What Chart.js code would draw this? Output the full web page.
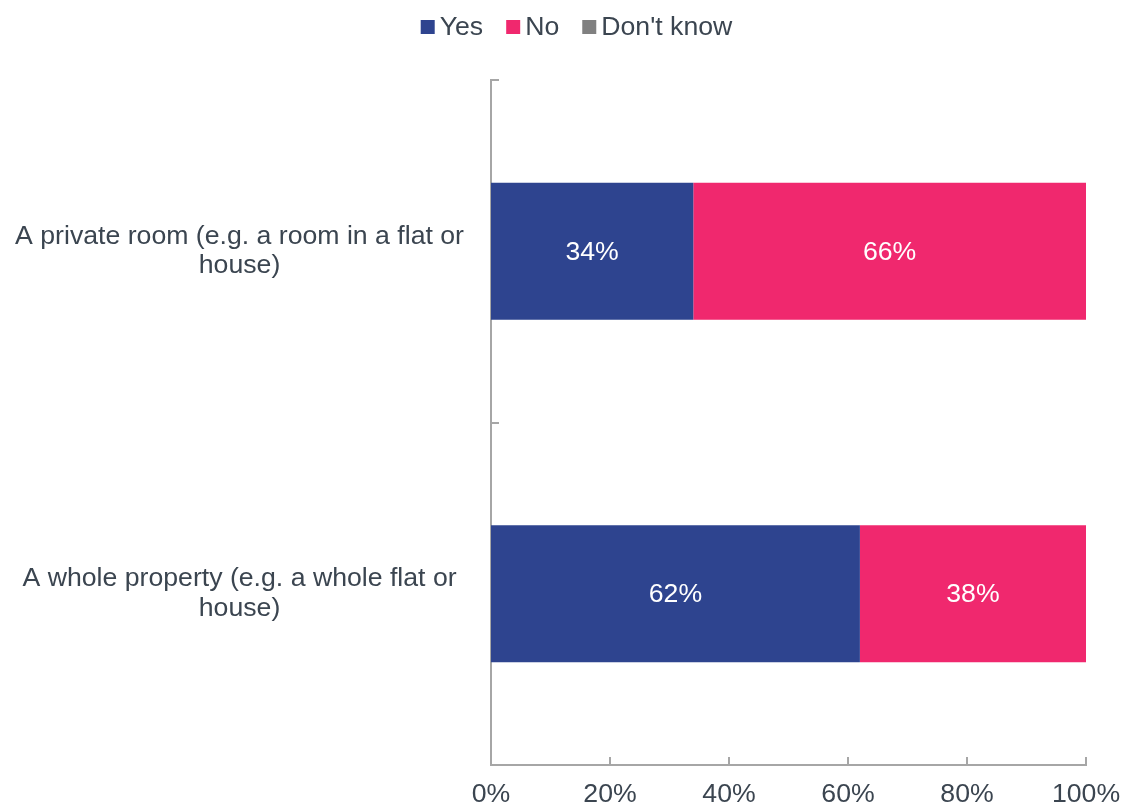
<!DOCTYPE html>
<html>
<head>
<meta charset="utf-8">
<script src="https://cdn.jsdelivr.net/npm/chart.js@4/dist/chart.umd.min.js"></script>
<style>
  html, body { margin: 0; padding: 0; background: #fff; }
  #wrap { width: 1125px; height: 807px; }
</style>
</head>
<body>
<div id="wrap"><canvas id="chart"></canvas></div>
<script>
// Chart data
const categories = [
  ['A private room (e.g. a room in a flat or', 'house)'],
  ['A whole property (e.g. a whole flat or', 'house)']
];
const yesValues = [34, 62];
const noValues = [66, 38];
const dontKnowValues = [0, 0];
const xTicks = [0, 20, 40, 60, 80, 100];

const TEXT = '#3b4550';
const AXIS = '#a6a6a6';
const FONT = 'Liberation Sans, Arial, sans-serif';
const FONT_SIZE = 26.67;

/**
 * Value labels in the middle of each bar segment
 */
const segmentLabels = {
  id: 'segmentLabels',
  afterDatasetsDraw(chart) {
    const ctx = chart.ctx;
    ctx.save();
    ctx.font = FONT_SIZE + 'px ' + FONT;
    ctx.fillStyle = '#ffffff';
    ctx.textAlign = 'center';
    ctx.textBaseline = 'middle';
    chart.data.datasets.forEach((ds, di) => {
      const meta = chart.getDatasetMeta(di);
      if (meta.hidden) return;
      meta.data.forEach((bar, i) => {
        const v = ds.data[i];
        if (!v) return;
        ctx.fillText(v + '%', (bar.x + bar.base) / 2, bar.y + 1);
      });
    });
    ctx.restore();
  }
};

/**
 * Small inward tick marks on both axes
 */
const innerTicks = {
  id: 'innerTicks',
  afterDraw(chart) {
    const ctx = chart.ctx;
    const x = chart.scales.x;
    const y = chart.scales.y;
    ctx.save();
    ctx.strokeStyle = AXIS;
    ctx.lineWidth = 2;
    ctx.beginPath();
    // category boundaries on the y axis
    const n = chart.data.labels.length;
    for (let k = 0; k <= n; k++) {
      const py = Math.round(y.top + k * (y.bottom - y.top) / n);
      ctx.moveTo(x.left, py);
      ctx.lineTo(x.left + 8, py);
    }
    // value ticks on the x axis
    x.ticks.forEach((t, i) => {
      const px = Math.round(x.getPixelForTick(i));
      ctx.moveTo(px, y.bottom);
      ctx.lineTo(px, y.bottom - 8);
    });
    ctx.stroke();
    ctx.restore();
  }
};

/**
 * Compact legend row (square, small gap, label) drawn from the datasets
 */
const compactLegend = {
  id: 'compactLegend',
  afterDraw(chart) {
    const ctx = chart.ctx;
    const box = 14, gap = 5, spacing = 23, cy = 27;
    ctx.save();
    ctx.font = FONT_SIZE + 'px ' + FONT;
    ctx.textBaseline = 'middle';
    const items = chart.data.datasets.map(ds => ({
      text: ds.label,
      color: ds.backgroundColor,
      w: box + gap + ctx.measureText(ds.label).width
    }));
    const total = items.reduce((s, it) => s + it.w, 0) + spacing * (items.length - 1);
    let x = chart.width / 2 + 14 - total / 2;
    items.forEach(it => {
      ctx.fillStyle = it.color;
      ctx.fillRect(x, cy - box / 2, box, box);
      ctx.fillStyle = TEXT;
      ctx.fillText(it.text, x + box + gap, cy + 1);
      x += it.w + spacing;
    });
    ctx.restore();
  }
};

const ctx = document.getElementById('chart').getContext('2d');
new Chart(ctx, {
  type: 'bar',
  data: {
    labels: categories,
    datasets: [
      { label: 'Yes', data: yesValues, backgroundColor: '#2e448f' },
      { label: 'No', data: noValues, backgroundColor: '#f0286e' },
      { label: "Don't know", data: dontKnowValues, backgroundColor: '#808080' }
    ]
  },
  options: {
    indexAxis: 'y',
    responsive: true,
    maintainAspectRatio: false,
    animation: false,
    datasets: {
      bar: { categoryPercentage: 1, barPercentage: 0.4, borderWidth: 0 }
    },
    layout: {
      padding: { left: 10, right: 39, top: 80, bottom: 0 }
    },
    plugins: {
      legend: { display: false },
      tooltip: { enabled: false }
    },
    scales: {
      x: {
        stacked: true,
        min: 0,
        max: 100,
        afterBuildTicks: (scale) => {
          scale.ticks = xTicks.map(v => ({ value: v }));
        },
        afterFit: (scale) => {
          scale.height = 42;
          scale.paddingLeft = 0;
          scale.paddingRight = 0;
        },
        grid: { display: false, drawTicks: false },
        border: { display: true, color: AXIS, width: 2 },
        ticks: {
          color: TEXT,
          font: { family: FONT, size: FONT_SIZE, lineHeight: 1 },
          padding: 16,
          maxRotation: 0,
          callback: (v) => v + '%'
        }
      },
      y: {
        stacked: true,
        afterFit: (scale) => {
          scale.width = 481;
          scale.paddingTop = 0;
          scale.paddingBottom = 0;
        },
        grid: { display: false, drawTicks: false },
        border: { display: true, color: AXIS, width: 2 },
        ticks: {
          color: TEXT,
          font: { family: FONT, size: FONT_SIZE, lineHeight: 1.1 },
          padding: 27,
          crossAlign: 'center'
        }
      }
    }
  },
  plugins: [segmentLabels, innerTicks, compactLegend]
});
</script>
</body>
</html>
